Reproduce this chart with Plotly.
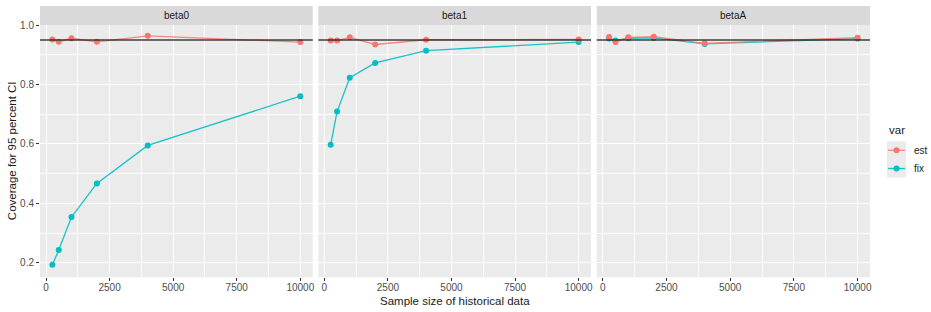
import plotly.graph_objects as go

# ---- data ----
sample_sizes = [250, 500, 1000, 2000, 4000, 10000]
panels = ["beta0", "beta1", "betaA"]
est_beta0 = [0.952, 0.944, 0.956, 0.944, 0.964, 0.943]
fix_beta0 = [0.193, 0.243, 0.354, 0.467, 0.595, 0.761]
est_beta1 = [0.948, 0.948, 0.959, 0.935, 0.951, 0.952]
fix_beta1 = [0.597, 0.709, 0.823, 0.873, 0.914, 0.943]
est_betaA = [0.960, 0.943, 0.959, 0.961, 0.939, 0.958]
fix_betaA = [0.955, 0.948, 0.956, 0.957, 0.937, 0.955]
nominal = 0.95
x_ticks = [0, 2500, 5000, 7500, 10000]
x_tick_labels = ["0", "2500", "5000", "7500", "10000"]
y_ticks = [0.2, 0.4, 0.6, 0.8, 1.0]
y_tick_labels = ["0.2", "0.4", "0.6", "0.8", "1.0"]
series_names = ["est", "fix"]

est_vals = [est_beta0, est_beta1, est_betaA]
fix_vals = [fix_beta0, fix_beta1, fix_betaA]

W, H = 931, 312
RED = "#F8766D"
TEAL = "#00BFC4"
RED_LINE = "rgba(248,118,109,0.85)"
TEAL_LINE = "rgba(0,191,196,0.9)"
FONT = "Liberation Sans"

# panel pixel geometry
px_l = [40.0, 318.3, 596.7]
px_r = [312.7, 591.0, 870.0]
py_top, py_bot = 25.0, 277.3
strip_top = 6.0

fig = go.Figure()

for i in range(3):
    ax = "" if i == 0 else str(i + 1)
    xa, ya = "x" + ax, "y" + ax
    # fix first, est on top
    fig.add_trace(go.Scatter(
        x=sample_sizes, y=fix_vals[i], mode="lines+markers", name="fix",
        line=dict(color=TEAL_LINE, width=1.3),
        marker=dict(color=TEAL, size=6),
        xaxis=xa, yaxis=ya, showlegend=False))
    fig.add_trace(go.Scatter(
        x=sample_sizes, y=est_vals[i], mode="lines+markers", name="est",
        line=dict(color=RED_LINE, width=1.3),
        marker=dict(color=RED, size=6),
        xaxis=xa, yaxis=ya, showlegend=False))

layout = dict(
    width=W, height=H, margin=dict(l=0, r=0, t=0, b=0),
    paper_bgcolor="white", plot_bgcolor="#EBEBEB",
    font=dict(family=FONT, size=10, color="#4D4D4D"),
    showlegend=False,
)

ydom = [(H - py_bot) / H, (H - py_top) / H]
for i in range(3):
    ax = "" if i == 0 else str(i + 1)
    layout["xaxis" + ax] = dict(
        domain=[px_l[i] / W, px_r[i] / W], anchor="y" + ax,
        range=[-237.5, 10487.5], tickvals=x_ticks, ticktext=x_tick_labels,
        ticks="outside", ticklen=3, tickcolor="#333333", tickwidth=1,
        ticklabelstandoff=-2,
        showgrid=True, gridcolor="white", gridwidth=1.1,
        minor=dict(dtick=1250, tick0=0, showgrid=True, gridcolor="white", gridwidth=0.5, ticks=""),
        zeroline=False, showline=False, tickfont=dict(size=10, color="#4D4D4D"),
        automargin=False,
    )
    layout["yaxis" + ax] = dict(
        domain=ydom, anchor="x" + ax,
        range=[0.1511, 1.0006], tickvals=y_ticks, ticktext=y_tick_labels,
        ticks="outside" if i == 0 else "", ticklen=3, tickcolor="#333333", tickwidth=1,
        showticklabels=(i == 0),
        showgrid=True, gridcolor="white", gridwidth=1.1,
        minor=dict(dtick=0.1, tick0=0.1, showgrid=True, gridcolor="white", gridwidth=0.5, ticks=""),
        zeroline=False, showline=False, tickfont=dict(size=10, color="#4D4D4D"),
        automargin=False,
    )
fig.update_layout(**layout)

shapes = []
annotations = []
for i in range(3):
    ax = "" if i == 0 else str(i + 1)
    # strip background
    shapes.append(dict(type="rect", xref="paper", yref="paper",
                       x0=px_l[i] / W, x1=px_r[i] / W,
                       y0=(H - py_top) / H, y1=(H - strip_top) / H,
                       fillcolor="#D9D9D9", line=dict(width=0), layer="below"))
    annotations.append(dict(text=panels[i], xref="paper", yref="paper",
                            x=(px_l[i] + px_r[i]) / 2 / W, y=(H - (strip_top + py_top) / 2) / H,
                            showarrow=False, xanchor="center", yanchor="middle",
                            font=dict(size=10, color="#1A1A1A", family=FONT)))
    # nominal line
    shapes.append(dict(type="line", xref=("x" + ax) + " domain", yref="y" + ax,
                       x0=0, x1=1, y0=nominal, y1=nominal,
                       line=dict(color="rgba(30,30,30,0.85)", width=1.4), layer="above"))

# ---- manual legend (ggplot style) ----
def py(v):
    return (H - v) / H

def pxx(v):
    return v / W

key_x0, key_x1 = 887.0, 906.0
row_y = [150.3, 168.5]
key_colors = [(RED, RED_LINE), (TEAL, TEAL_LINE)]
shapes.append(dict(type="rect", xref="paper", yref="paper",
                   x0=pxx(key_x0), x1=pxx(key_x1), y0=py(177.5), y1=py(141.3),
                   fillcolor="#EBEBEB", line=dict(width=0), layer="below"))
for name, yy, (mc, lc) in zip(series_names, row_y, key_colors):
    shapes.append(dict(type="line", xref="paper", yref="paper",
                       x0=pxx(key_x0 + 1), x1=pxx(key_x1 - 1), y0=py(yy), y1=py(yy),
                       line=dict(color=lc, width=1.3)))
    cx = (key_x0 + key_x1) / 2
    shapes.append(dict(type="circle", xref="paper", yref="paper",
                       x0=pxx(cx - 3), x1=pxx(cx + 3), y0=py(yy + 3), y1=py(yy - 3),
                       fillcolor=mc, line=dict(width=0)))
    annotations.append(dict(text=name, xref="paper", yref="paper",
                            x=pxx(911.5), y=py(yy), showarrow=False,
                            xanchor="left", yanchor="middle",
                            font=dict(size=10, color="#1A1A1A", family=FONT)))
annotations.append(dict(text="var", xref="paper", yref="paper",
                        x=pxx(887.3), y=py(130), showarrow=False,
                        xanchor="left", yanchor="middle",
                        font=dict(size=11.5, color="#1A1A1A", family=FONT)))

annotations.append(dict(text="Sample size of historical data", xref="paper", yref="paper",
                        x=(px_l[1] + px_r[1]) / 2 / W, y=py(300.5),
                        showarrow=False, xanchor="center", yanchor="middle",
                        font=dict(size=11.5, color="#1A1A1A", family=FONT)))
annotations.append(dict(text="Coverage for 95 percent CI", xref="paper", yref="paper",
                        x=12 / W, y=py((py_top + py_bot) / 2), textangle=-90,
                        showarrow=False, xanchor="center", yanchor="middle",
                        font=dict(size=11.5, color="#1A1A1A", family=FONT)))
fig.update_layout(shapes=shapes, annotations=annotations)

fig.write_html("out.html")
